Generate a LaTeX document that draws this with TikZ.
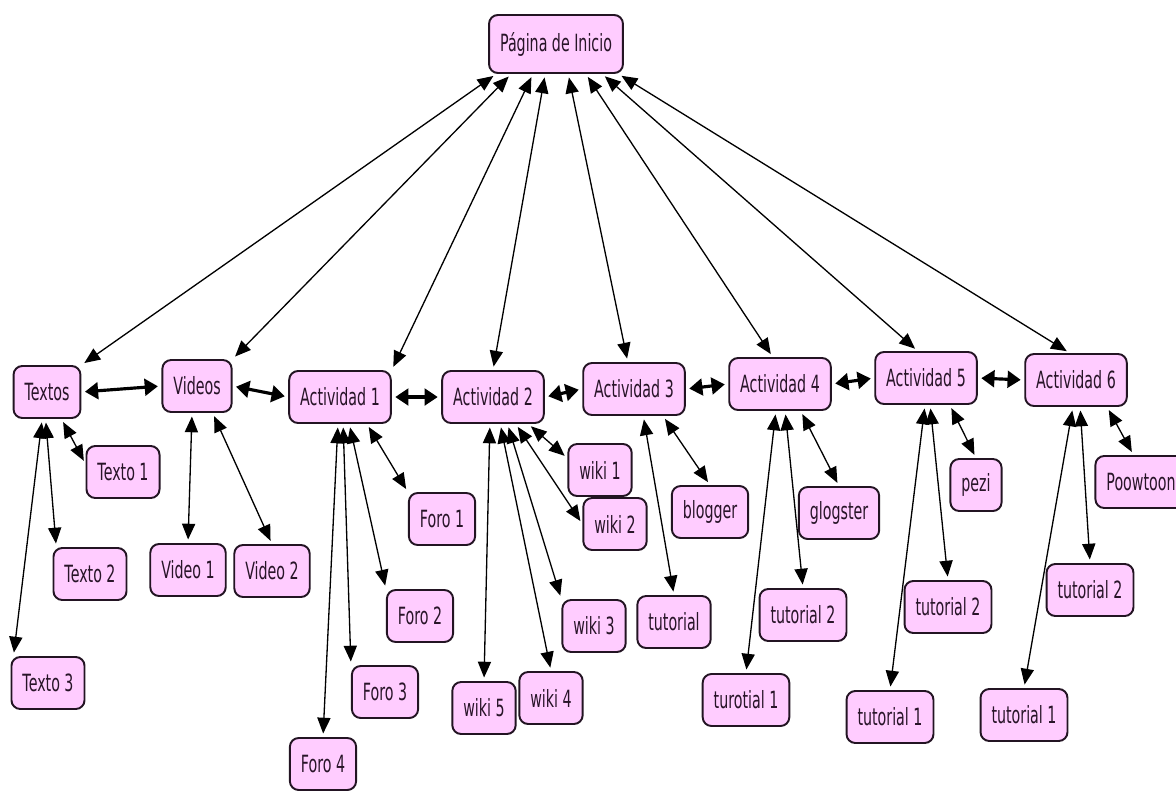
\documentclass[tikz,border=0pt]{standalone}
\usepackage{fontspec}
\setmainfont{DejaVu Sans}[FakeStretch=0.6]
\usepackage{tikz}
\usetikzlibrary{arrows.meta, calc}
\definecolor{MapFill}{RGB}{255,204,255}
\definecolor{MapLine}{RGB}{35,20,35}
\definecolor{MapText}{RGB}{40,20,40}

\begin{document}
\begin{tikzpicture}[x=0.02cm, y=-0.02cm]
        \tikzset{ cpt/.style ={draw=MapLine, fill=MapFill, line width=1.1pt, rounded corners=5pt, text=MapText, font=\fontsize{13.5}{16}\selectfont, inner xsep=0.22cm, minimum height=1.04cm} }
        \tikzset{ lnk/.style ={<->, >={Triangle[length=9pt, width=7.5pt]}, line width=0.75pt, shorten <=2pt, shorten >=2pt} }
        \tikzset{ lnkb/.style={<->, >={Triangle[length=7.5pt, width=9.5pt]}, line width=1.8pt, shorten <=2pt, shorten >=2pt} }

        \useasboundingbox (0,0) rectangle (1176,791);

        \node[cpt, minimum height=1.16cm] (pag) at (556, 44) {Página de Inicio};

        \node[cpt] (txt) at (  47, 392) {Textos};
        \node[cpt] (vid) at ( 197, 386) {Videos};
        \node[cpt] (a1)  at ( 340, 397) {Actividad 1};
        \node[cpt] (a2)  at ( 493, 397) {Actividad 2};
        \node[cpt] (a3)  at ( 634, 389) {Actividad 3};
        \node[cpt] (a4)  at ( 780, 384) {Actividad 4};
        \node[cpt] (a5)  at ( 926, 378) {Actividad 5};
        \node[cpt] (a6)  at (1076, 380) {Actividad 6};

        \node[cpt] (txt1) at (123, 472) {Texto 1};
        \node[cpt] (txt2) at ( 90, 574) {Texto 2};
        \node[cpt] (txt3) at ( 48, 683) {Texto 3};

        \node[cpt] (vid1) at (188, 570) {Video 1};
        \node[cpt] (vid2) at (272, 571) {Video 2};

        \node[cpt] (a1_f1) at (442, 519) {Foro 1};
        \node[cpt] (a1_f2) at (420, 616) {Foro 2};
        \node[cpt] (a1_f3) at (385, 692) {Foro 3};
        \node[cpt] (a1_f4) at (323, 764) {Foro 4};

        \node[cpt] (a2_w1) at (600, 470) {wiki 1};
        \node[cpt] (a2_w2) at (615, 524) {wiki 2};
        \node[cpt] (a2_w3) at (594, 626) {wiki 3};
        \node[cpt] (a2_w4) at (551, 698) {wiki 4};
        \node[cpt] (a2_w5) at (484, 708) {wiki 5};

        \node[cpt] (a3_blg) at (710, 512) {blogger};
        \node[cpt] (a3_tut) at (674, 622) {tutorial};

        \node[cpt] (a4_glg)  at (839, 513) {glogster};
        \node[cpt] (a4_tut2) at (803, 615) {tutorial 2};
        \node[cpt] (a4_tut1) at (746, 700) {turotial 1};

        \node[cpt] (a5_pz)   at (976, 485) {pezi};
        \node[cpt] (a5_tut2) at (948, 607) {tutorial 2};
        \node[cpt] (a5_tut1) at (890, 717) {tutorial 1};

        \node[cpt] (a6_pw)   at (1141, 482) {Poowtoon};
        \node[cpt] (a6_tut2) at (1090, 590) {tutorial 2};
        \node[cpt] (a6_tut1) at (1024, 715) {tutorial 1};

        % from the start page
        \draw[lnk] ($(pag.south west)!0.06!(pag.south east)$) -- (txt.north east);
        \draw[lnk] ($(pag.south west)!0.17!(pag.south east)$) -- (vid.north east);
        \draw[lnk] ($(pag.south west)!0.33!(pag.south east)$) -- (a1.north east);
        \draw[lnk] ($(pag.south west)!0.42!(pag.south east)$) -- (a2.north);
        \draw[lnk] ($(pag.south west)!0.59!(pag.south east)$) -- ($(a3.north west)!0.44!(a3.north east)$);
        \draw[lnk] ($(pag.south west)!0.72!(pag.south east)$) -- ($(a4.north west)!0.43!(a4.north east)$);
        \draw[lnk] ($(pag.south west)!0.84!(pag.south east)$) -- ($(a5.north west)!0.42!(a5.north east)$);
        \draw[lnk] ($(pag.south west)!0.96!(pag.south east)$) -- ($(a6.north west)!0.44!(a6.north east)$);

        % the row
        \draw[lnkb] (txt.east) -- (vid.west);
        \draw[lnkb] (vid.east) -- (a1.west);
        \draw[lnkb] (a1.east)  -- (a2.west);
        \draw[lnkb] (a2.east)  -- (a3.west);
        \draw[lnkb] (a3.east)  -- (a4.west);
        \draw[lnkb] (a4.east)  -- (a5.west);
        \draw[lnkb] (a5.east)  -- (a6.west);

        % texts and videos
        \draw[lnk] ($(txt.south west)!0.71!(txt.south east)$) -- ($(txt1.north west)!0.35!(txt1.south west)$);
        \draw[lnk] ($(txt.south west)!0.48!(txt.south east)$) -- ($(txt2.north west)!0.05!(txt2.north east)$);
        \draw[lnk] ($(txt.south west)!0.43!(txt.south east)$) -- ($(txt3.north west)!0.04!(txt3.north east)$);
        \draw[lnk] ($(vid.south west)!0.43!(vid.south east)$) -- (vid1.north);
        \draw[lnk] ($(vid.south west)!0.72!(vid.south east)$) -- (vid2.north);

        % actividad 1
        \draw[lnk] ($(a1.south west)!0.76!(a1.south east)$) -- (a1_f1.north west);
        \draw[lnk] ($(a1.south west)!0.59!(a1.south east)$) -- (a1_f2.north west);
        \draw[lnk] ($(a1.south west)!0.53!(a1.south east)$) -- (a1_f3.north west);
        \draw[lnk] ($(a1.south west)!0.48!(a1.south east)$) -- (a1_f4.north);

        % actividad 2
        \draw[lnk] ($(a2.south west)!0.84!(a2.south east)$) -- ($(a2_w1.north west)!0.28!(a2_w1.south west)$);
        \draw[lnk] ($(a2.south west)!0.72!(a2.south east)$) -- (a2_w2.west);
        \draw[lnk] ($(a2.south west)!0.64!(a2.south east)$) -- (a2_w3.north west);
        \draw[lnk] ($(a2.south west)!0.57!(a2.south east)$) -- (a2_w4.north);
        \draw[lnk] ($(a2.south west)!0.47!(a2.south east)$) -- (a2_w5.north);

        % actividad 3 to 6
        \draw[lnk] ($(a3.south west)!0.78!(a3.south east)$) -- (a3_blg.north);
        \draw[lnk] ($(a3.south west)!0.59!(a3.south east)$) -- (a3_tut.north);
        \draw[lnk] ($(a4.south west)!0.70!(a4.south east)$) -- (a4_glg.north);
        \draw[lnk] ($(a4.south west)!0.55!(a4.south east)$) -- (a4_tut2.north);
        \draw[lnk] ($(a4.south west)!0.46!(a4.south east)$) -- (a4_tut1.north);
        \draw[lnk] ($(a5.south west)!0.73!(a5.south east)$) -- (a5_pz.north);
        \draw[lnk] ($(a5.south west)!0.54!(a5.south east)$) -- (a5_tut2.north);
        \draw[lnk] ($(a5.south west)!0.49!(a5.south east)$) -- (a5_tut1.north);
        \draw[lnk] ($(a6.south west)!0.80!(a6.south east)$) -- ($(a6_pw.north west)!0.42!(a6_pw.north east)$);
        \draw[lnk] ($(a6.south west)!0.54!(a6.south east)$) -- (a6_tut2.north);
        \draw[lnk] ($(a6.south west)!0.47!(a6.south east)$) -- (a6_tut1.north);
      \end{tikzpicture}
\end{document}
